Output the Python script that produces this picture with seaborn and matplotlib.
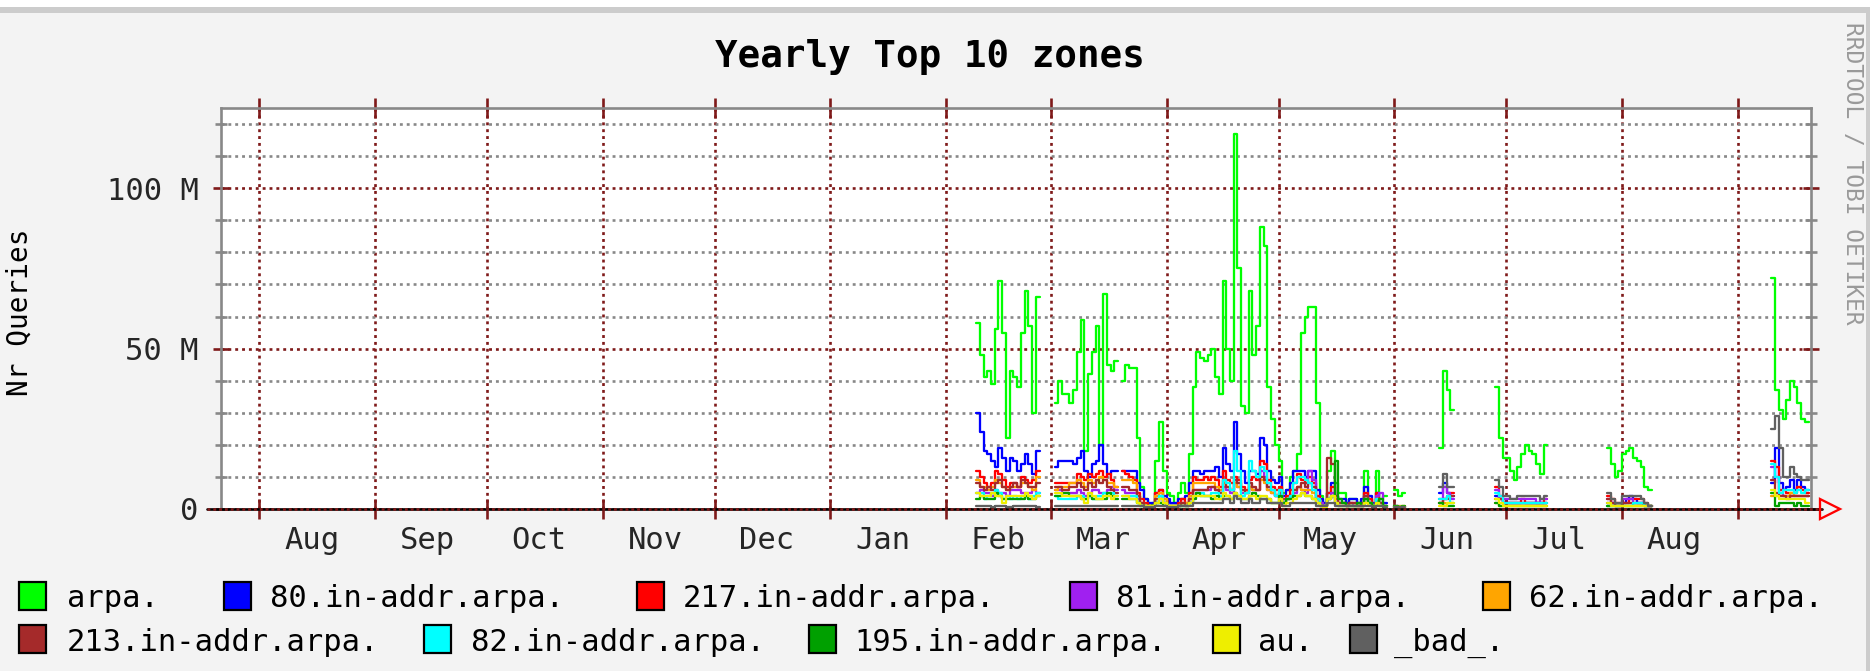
import numpy as np
import pandas as pd
import matplotlib
matplotlib.use("Agg")
import matplotlib.pyplot as plt
import matplotlib.dates as mdates
from matplotlib.patches import Rectangle
from matplotlib.lines import Line2D
from matplotlib.ticker import NullFormatter
import seaborn as sns

# ---------------- data (millions of queries per day) ----------------
ZONES = ["arpa.", "80.in-addr.arpa.", "217.in-addr.arpa.", "81.in-addr.arpa.",
         "62.in-addr.arpa.", "213.in-addr.arpa.", "82.in-addr.arpa.",
         "195.in-addr.arpa.", "au.", "_bad_."]
COLORS = ["#00ff00", "#0000ff", "#ff0000", "#a020f0", "#ffa500",
          "#a52a2a", "#00ffff", "#00a000", "#eeee00", "#606060"]

# contiguous runs of daily samples (gaps between them are unknown data)
SEG_START = ["2005-02-09", "2005-03-02", "2005-03-20", "2005-06-01",
             "2005-06-13", "2005-06-28", "2005-07-28", "2005-09-10"]
SEG_LEN = [17, 17, 71, 3, 4, 14, 12, 10]

ARPA = ([58, 48, 41, 43, 39, 56, 71, 55, 22, 43, 41, 38, 55, 68, 57, 30, 66]
        + [33, 40, 36, 36, 33, 37, 49, 59, 18, 42, 49, 57, 20, 67, 45, 43, 46]
        + [40, 45, 44, 44, 22, 7, 3, 1, 2, 15, 27, 12]
        + [5, 4, 2, 5, 8, 5, 17, 38, 49, 47, 46, 48, 50, 41, 36, 71, 50, 40, 117, 75,
           32, 30, 68, 48, 57, 88, 82, 38, 28, 20]
        + [15, 5, 6, 10, 12, 17, 55, 60, 63, 63, 33, 4, 2, 12, 18, 8, 5, 5, 2, 3,
           3, 2, 2, 12, 3, 1, 12, 3, 4]
        + [6, 4, 5]
        + [19, 43, 37, 31]
        + [38, 22, 16, 16, 12, 9, 13, 17, 20, 18, 17, 14, 11, 20]
        + [19, 14, 10, 12, 17, 18, 19, 16, 15, 13, 7, 6]
        + [72, 37, 31, 28, 34, 40, 38, 33, 28, 27])

Z80 = ([30, 24, 18, 17, 15, 13, 19, 16, 12, 16, 15, 12, 14, 17, 14, 11, 18]
       + [13, 15, 15, 15, 15, 14, 16, 18, 12, 10, 14, 15, 20, 14, 11, 12, 12]
       + [12, 12, 12, 12, 8, 6, 3, 2, 2, 5, 6, 4]
       + [3, 2, 2, 3, 3, 4, 8, 12, 12, 11, 12, 12, 12, 13, 10, 19, 14, 12, 27, 17,
          12, 8, 12, 12, 11, 22, 20, 12, 9, 8]
       + [10, 4, 6, 8, 12, 12, 12, 10, 12, 12, 6, 3, 2, 5, 8, 4, 3, 3, 2, 3,
          3, 2, 3, 7, 4, 2, 5, 2, 2]
       + [1, 0.5, 0.5]
       + [5, 8, 5, 4]
       + [4, 3, 2, 2, 2, 2, 2, 2, 2, 2, 2, 2, 2, 2]
       + [2, 2, 1, 1, 2, 3, 4, 3, 2, 2, 1, 1]
       + [8, 19, 8, 6, 7, 9, 6, 9, 7, 6])

Z217 = ([12, 10, 8, 7, 8, 12, 11, 9, 7, 8, 8, 7, 10, 9, 8, 9, 12]
        + [8, 8, 8, 8, 8, 8, 11, 10, 9, 11, 10, 11, 12, 10, 11, 9, 7]
        + [12, 11, 10, 9, 5, 3, 2, 1, 1, 5, 6, 3]
        + [1, 1, 1, 2, 3, 2, 5, 10, 9, 9, 10, 9, 10, 9, 7, 12, 9, 8, 10, 9,
           7, 6, 9, 10, 9, 15, 14, 9, 7, 6]
        + [7, 3, 4, 6, 8, 11, 9, 8, 10, 8, 4, 2, 1, 5, 7, 3, 2, 2, 1, 2,
           2, 1, 2, 5, 3, 1, 5, 2, 1]
        + [0.5, 0.5, 0.5]
        + [2, 3, 4, 5]
        + [7, 4, 2, 2, 2, 2, 2, 3, 2, 2, 2, 2, 2, 3]
        + [4, 3, 2, 2, 2, 2, 3, 3, 3, 3, 2, 1]
        + [15, 13, 6, 6, 5, 5, 5, 7, 6, 5])

Z81 = ([5, 6, 5, 5, 4, 6, 5, 5, 4, 6, 6, 6, 5, 5, 5, 6, 5]
       + [6, 6, 5, 5, 5, 5, 6, 5, 4, 5, 6, 6, 5, 5, 6, 7, 6]
       + [6, 5, 5, 5, 3, 2, 1, 1, 1, 2, 3, 2]
       + [1, 1, 1, 1, 2, 1, 3, 6, 6, 6, 6, 6, 7, 6, 5, 7, 6, 5, 8, 7,
          5, 5, 7, 6, 6, 12, 10, 6, 5, 4]
       + [5, 2, 3, 4, 5, 7, 6, 5, 12, 9, 3, 2, 1, 3, 5, 2, 2, 2, 1, 2,
          1, 1, 1, 4, 2, 1, 4, 5, 1]
       + [0.5, 0.5, 0.5]
       + [3, 7, 5, 3]
       + [6, 3, 3, 3, 3, 3, 3, 3, 3, 3, 3, 2, 3, 3]
       + [3, 2, 1, 1, 3, 3, 3, 2, 2, 2, 1, 1]
       + [13, 10, 5, 4, 4, 4, 4, 4, 4, 4])

Z62 = ([9, 7, 7, 6, 7, 9, 8, 7, 6, 7, 7, 7, 8, 8, 7, 6, 10]
       + [6, 7, 7, 7, 8, 8, 9, 8, 7, 9, 8, 9, 10, 9, 8, 8, 7]
       + [9, 9, 9, 8, 4, 2, 1, 1, 1, 4, 5, 3]
       + [1, 1, 1, 1, 2, 2, 4, 8, 8, 8, 8, 8, 8, 7, 6, 8, 7, 6, 8, 7,
          6, 5, 7, 6, 6, 9, 8, 6, 5, 4]
       + [6, 2, 3, 4, 6, 7, 6, 6, 6, 5, 3, 1, 1, 3, 4, 2, 1, 1, 1, 1,
          1, 1, 1, 3, 2, 1, 3, 1, 1]
       + [1, 1, 1]
       + [2, 2, 2, 2]
       + [2, 1, 1, 1, 1, 1, 1, 1, 1, 1, 1, 1, 1, 1]
       + [1, 1, 1, 1, 1, 1, 1, 1, 1, 1, 1, 1]
       + [4, 4, 4, 4, 4, 5, 4, 4, 4, 4])

Z213 = ([8, 7, 6, 7, 6, 8, 9, 7, 6, 7, 8, 7, 9, 8, 7, 7, 8]
        + [7, 7, 6, 6, 7, 7, 8, 7, 6, 8, 7, 9, 8, 9, 7, 6, 5]
        + [7, 7, 6, 6, 4, 2, 1, 1, 1, 3, 4, 2]
        + [1, 1, 1, 1, 2, 1, 3, 6, 6, 6, 6, 7, 7, 6, 5, 9, 7, 6, 9, 8,
           6, 5, 8, 7, 6, 10, 9, 7, 6, 4]
        + [5, 2, 3, 4, 6, 7, 8, 7, 8, 7, 3, 1, 1, 16, 14, 4, 2, 2, 1, 2,
           2, 1, 1, 4, 2, 1, 3, 2, 1]
        + [0.5, 0.5, 0.5]
        + [2, 3, 3, 4]
        + [3, 3, 2, 2, 2, 2, 2, 2, 2, 2, 2, 2, 2, 2]
        + [3, 2, 1, 1, 2, 2, 2, 2, 2, 2, 1, 1]
        + [9, 5, 4, 4, 3, 4, 4, 4, 4, 4])

Z82 = ([5, 5, 3, 4, 5, 6, 5, 3, 4, 3, 4, 3, 4, 4, 3, 4, 5]
       + [4, 3, 3, 3, 3, 3, 4, 4, 3, 4, 3, 4, 4, 5, 4, 5, 4]
       + [4, 4, 4, 4, 2, 1, 1, 0.5, 0.5, 2, 4, 2]
       + [1, 1, 1, 1, 1, 1, 2, 4, 5, 5, 4, 4, 5, 5, 4, 9, 8, 6, 18, 12,
          4, 5, 15, 12, 10, 13, 12, 8, 6, 4]
       + [6, 2, 3, 4, 8, 10, 10, 9, 8, 6, 3, 1, 1, 3, 4, 2, 1, 1, 1, 1,
          1, 1, 1, 3, 2, 1, 3, 1, 1]
       + [0.5, 0.5, 0.5]
       + [3, 3, 4, 2]
       + [5, 4, 2, 2, 2, 2, 2, 2, 2, 2, 2, 2, 2, 2]
       + [1, 1, 1, 1, 1, 1, 1, 2, 2, 2, 1, 1]
       + [14, 10, 5, 6, 6, 6, 5, 6, 5, 6])

Z195 = ([3, 4, 3, 3, 3, 5, 4, 3, 3, 3, 3, 3, 3, 4, 3, 3, 4]
        + [4, 4, 5, 5, 4, 4, 4, 3, 3, 4, 3, 3, 3, 3, 5, 4, 3]
        + [3, 3, 3, 3, 2, 1, 1, 1, 1, 2, 2, 1]
        + [1, 1, 1, 1, 1, 1, 2, 3, 5, 4, 4, 4, 3, 4, 3, 4, 4, 3, 5, 4,
           3, 3, 4, 5, 4, 3, 3, 3, 2, 2]
        + [4, 2, 3, 3, 4, 4, 5, 4, 4, 3, 2, 1, 1, 3, 4, 15, 3, 2, 1, 1,
           1, 2, 1, 3, 2, 1, 2, 3, 1]
        + [1, 0.5, 1]
        + [2, 1, 1, 1]
        + [2, 1, 1, 1, 1, 1, 1, 1, 1, 1, 1, 1, 1, 1]
        + [1, 1, 1, 1, 1, 1, 1, 1, 1, 1, 1, 1]
        + [5, 1, 2, 2, 2, 2, 1, 2, 1, 1])

AU = ([5, 4, 4, 4, 5, 4, 4, 2, 4, 4, 4, 4, 4, 5, 4, 3, 4]
      + [5, 5, 4, 4, 4, 4, 4, 3, 2, 5, 4, 3, 3, 4, 4, 3, 4]
      + [4, 4, 3, 3, 2, 1, 1, 1, 1, 2, 3, 2]
      + [1, 1, 1, 1, 1, 1, 2, 4, 4, 4, 4, 4, 4, 3, 3, 5, 4, 3, 5, 4,
         3, 3, 4, 4, 3, 4, 4, 3, 2, 2]
      + [3, 1, 2, 2, 3, 4, 5, 4, 4, 3, 2, 1, 0.5, 3, 4, 2, 1, 1, 1, 1,
         1, 1, 1, 2, 1, 0.5, 2, 1, 0.5]
      + [0.5, 0.5, 0.5]
      + [1, 1, 2, 2]
      + [3, 2, 1, 1, 1, 1, 1, 1, 1, 1, 1, 1, 1, 1]
      + [2, 1, 1, 1, 1, 1, 1, 1, 1, 1, 1, 1]
      + [6, 4, 3, 3, 3, 3, 3, 3, 3, 2])

BAD = ([1, 1, 1, 1, 0.5, 1, 1, 1, 0.5, 0.5, 1, 1, 1, 1, 1, 1, 0.5]
       + [1, 1, 1, 1, 1, 1, 1, 1, 1, 1, 1, 1, 1, 1, 1, 1, 1]
       + [1, 1, 1, 1, 1, 1, 0.5, 0.5, 0.5, 1, 1, 1]
       + [0.5, 0.5, 0.5, 1, 1, 1, 1, 2, 2, 2, 2, 2, 2, 2, 2, 3, 3, 2, 4, 3,
          2, 2, 3, 2, 2, 3, 3, 2, 2, 2]
       + [2, 1, 1, 2, 2, 2, 2, 2, 2, 2, 1, 1, 1, 2, 2, 1, 1, 1, 1, 1,
          1, 1, 1, 1, 1, 0.5, 1, 1, 0.5]
       + [0.5, 0.5, 0.5]
       + [7, 11, 7, 7]
       + [9, 7, 4, 4, 3, 3, 4, 4, 4, 4, 4, 4, 3, 4]
       + [5, 3, 2, 2, 4, 4, 4, 4, 4, 3, 2, 1]
       + [25, 29, 19, 10, 10, 13, 11, 10, 9, 9])

SERIES = [ARPA, Z80, Z217, Z81, Z62, Z213, Z82, Z195, AU, BAD]

MONTH_LABEL_DAYS = ["2004-08-15", "2004-09-15", "2004-10-15", "2004-11-15",
                    "2004-12-15", "2005-01-15", "2005-02-15", "2005-03-15",
                    "2005-04-15", "2005-05-15", "2005-06-15", "2005-07-15",
                    "2005-08-15"]

# ---------------- long-form table ----------------
rows = []
total = sum(SEG_LEN)
for zone, vals in zip(ZONES, SERIES):
    if len(vals) != total:
        raise ValueError(f"{zone}: {len(vals)} values, expected {total}")
    i = 0
    for s, (start, n) in enumerate(zip(SEG_START, SEG_LEN)):
        seg = list(vals[i:i + n])
        i += n
        dates = pd.date_range(start, periods=n + 1, freq="D")
        seg = seg + [seg[-1]]          # close the last daily step
        for d, v in zip(dates, seg):
            rows.append((d, v, zone, s))
df = pd.DataFrame(rows, columns=["date", "queries", "zone", "seg"])

# ---------------- figure ----------------
W, H = 1873, 671
sns.set_theme(style="white")
plt.rcParams["font.family"] = ["DejaVu Sans Mono", "DejaVu Sans"]
plt.rcParams["text.color"] = "black"

RED = "#7f1a1a"
GRAY = "#888888"
BG = "#f3f3f3"
LW = 1.65
GLW = 1.9
DOT = (0, (1.1, 1.5))


def fx(px):
    return px / W


def fy(py):
    return 1 - py / H


fig = plt.figure(figsize=(W / 100, H / 100), dpi=100, facecolor=BG)
L, R, T, B = 221, 1811, 108, 509
ax = fig.add_axes([fx(L), fy(B), (R - L) / W, (B - T) / H])
ax.set_facecolor("white")

sns.lineplot(data=df, x="date", y="queries", hue="zone", hue_order=ZONES,
             palette=dict(zip(ZONES, COLORS)), units="seg", estimator=None,
             drawstyle="steps-post", linewidth=LW, legend=False, ax=ax,
             zorder=3)

ax.set_xlabel("")
ax.set_ylabel("")

# y axis
ax.set_yticks([0, 50, 100])
ax.set_yticklabels(["0", "50 M", "100 M"])
ax.set_yticks([10, 20, 30, 40, 60, 70, 80, 90, 110, 120], minor=True)

# x axis: month boundaries (grid) and mid-month labels
ax.xaxis.set_major_locator(mdates.MonthLocator())
ax.xaxis.set_major_formatter(NullFormatter())
lab_dates = pd.to_datetime(MONTH_LABEL_DAYS)
ax.set_xticks(lab_dates, minor=True)
ax.set_xticklabels([d.strftime("%b") for d in lab_dates], minor=True)

ax.set_axisbelow(True)
ax.xaxis.grid(True, which="major", color=RED, lw=GLW, ls=DOT)
ax.yaxis.grid(True, which="major", color=RED, lw=GLW, ls=DOT)
ax.yaxis.grid(True, which="minor", color=GRAY, lw=GLW, ls=DOT)
ax.xaxis.grid(False, which="minor")

ax.tick_params(axis="y", which="major", direction="inout", length=11, width=GLW,
               color=RED, left=True, right=True, labelsize=22, pad=10.5)
ax.tick_params(axis="y", which="minor", direction="inout", length=8.5, width=GLW,
               color=GRAY, left=True, right=True)
ax.tick_params(axis="x", which="major", direction="inout", length=14, width=GLW,
               color=RED, bottom=True, top=True)
ax.tick_params(axis="x", which="minor", length=0, labelsize=22, pad=12)

for side in ["left", "top", "right"]:
    ax.spines[side].set_color(GRAY)
    ax.spines[side].set_linewidth(GLW)
ax.spines["bottom"].set_visible(False)

# zero axis line (black/red dashed) with arrow
trans = ax.get_yaxis_transform()
x0 = (207 - L) / (R - L)
x1 = (1822 - L) / (R - L)
ax.add_line(Line2D([x0, x1], [0, 0], color="black", lw=GLW, transform=trans,
                   clip_on=False, zorder=6))
ax.add_line(Line2D([x0, x1], [0, 0], color=RED, lw=GLW, ls=(0, (1.1, 1.1)),
                   transform=trans, clip_on=False, zorder=7))
ax.add_line(Line2D([(1830 - L) / (R - L)], [0], marker=">", markersize=15,
                   markerfacecolor="none", markeredgecolor="#ff0000",
                   markeredgewidth=LW, transform=trans, clip_on=False, zorder=8))

ax.set_xlim(pd.Timestamp("2004-07-21 18:00"), pd.Timestamp("2005-09-20 15:00"))
ax.set_ylim(0, 125)

# ---------------- texts ----------------
fig.text(fx(930), fy(67), "Yearly Top 10 zones", ha="center", va="baseline",
         fontsize=27, fontweight="bold")
fig.text(fx(20), fy(312), "Nr Queries", rotation=90, ha="center", va="center",
         fontsize=20)
fig.text(fx(1852), fy(22), "RRDTOOL / TOBI OETIKER", rotation=270,
         ha="center", va="top", fontsize=16.5, color="#999999")

# ---------------- legend ----------------
LEG_BOX_X = [19, 224, 637, 1070, 1483, 19, 424, 809, 1213, 1350]
LEG_TEXT_X = [67, 270, 683, 1116, 1529, 67, 471, 854, 1258, 1394]
LEG_ROW = [0, 0, 0, 0, 0, 1, 1, 1, 1, 1]
ROW_BOX_TOP = [582, 625]
ROW_BASE = [607, 651]
for zone, col, bx, tx, r in zip(ZONES, COLORS, LEG_BOX_X, LEG_TEXT_X, LEG_ROW):
    top = ROW_BOX_TOP[r]
    fig.add_artist(Rectangle((fx(bx), fy(top + 28)), 27 / W, 28 / H,
                             facecolor=col, edgecolor="black", lw=1.6,
                             transform=fig.transFigure))
    fig.text(fx(tx), fy(ROW_BASE[r]), zone, ha="left", va="baseline",
             fontsize=22)

# ---------------- frame decoration ----------------
fig.add_artist(Rectangle((0, fy(7)), 1, 7 / H, facecolor="white",
                         edgecolor="none", transform=fig.transFigure))
fig.add_artist(Rectangle((0, fy(13)), fx(1870), 6 / H, facecolor="#cccccc",
                         edgecolor="none", transform=fig.transFigure))
fig.add_artist(Rectangle((fx(1866), 0), 4 / W, fy(7), facecolor="#cccccc",
                         edgecolor="none", transform=fig.transFigure))
fig.add_artist(Rectangle((fx(1870), 0), 3 / W, 1, facecolor="white",
                         edgecolor="none", transform=fig.transFigure))

fig.savefig("out.png", dpi=100, facecolor=BG)
